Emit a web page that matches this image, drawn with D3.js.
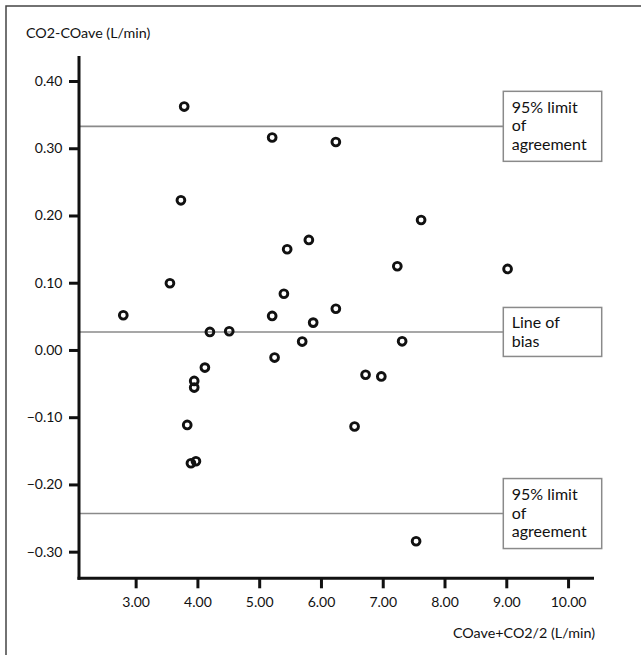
<!DOCTYPE html>
<html>
<head>
<meta charset="utf-8">
<script src="https://cdn.jsdelivr.net/npm/d3@7"></script>
<style>
  html, body { margin: 0; padding: 0; background: #fff; }
  svg { display: block; }
  text { font-family: Lato, "Open Sans", sans-serif; fill: #111; }
</style>
</head>
<body>
<svg id="chart" width="641" height="655"></svg>
<script>
// ---- data ----
const xValues = [2.80, 3.555, 3.733, 3.786, 3.835, 3.895, 3.976, 3.948, 3.948, 4.121,
                 4.202, 4.515, 5.21, 5.21, 5.249, 5.40, 5.453, 5.696, 5.804, 5.874,
                 6.241, 6.241, 6.544, 6.722, 6.977, 7.236, 7.314, 7.540, 7.621, 9.021];
const yValues = [0.0516, 0.0992, 0.2226, 0.362, -0.1115, -0.1685, -0.1655, -0.0461, -0.0559, -0.0262,
                 0.0268, 0.0278, 0.316, 0.0506, -0.0113, 0.0836, 0.1498, 0.0125, 0.1636, 0.0407,
                 0.3093, 0.0613, -0.1138, -0.0369, -0.0394, 0.1245, 0.0129, -0.2845, 0.1933, 0.1205];
const xTicks = [3, 4, 5, 6, 7, 8, 9, 10];
const yTicks = [-0.3, -0.2, -0.1, 0, 0.1, 0.2, 0.3, 0.4];
const refValues = [0.3326, 0.0268, -0.2433];
const refLabels = [["95% limit", "of", "agreement"], ["Line of", "bias"], ["95% limit", "of", "agreement"]];
const xTitle = "COave+CO2/2 (L/min)";
const yTitle = "CO2-COave (L/min)";

// ---- layout ----
const svg = d3.select("#chart");
const x = d3.scaleLinear().domain([2.083, 10.42]).range([79, 594]);
const y = d3.scaleLinear().domain([-0.3396, 0.4372]).range([578.3, 56]);

// outer frame (only top and left edges visible)
svg.append("rect").attr("x", 6).attr("y", 6).attr("width", 700).attr("height", 700)
  .attr("fill", "none").attr("stroke", "#444").attr("stroke-width", 1.5);

// reference lines
const boxX = 503.3, boxW = 98.4;
refValues.forEach((v, i) => {
  svg.append("line")
    .attr("x1", x.range()[0]).attr("x2", boxX)
    .attr("y1", y(v)).attr("y2", y(v))
    .attr("stroke", "#8a8a8a").attr("stroke-width", 1.6);
  const lines = refLabels[i];
  const lh = 18.5;
  const h = lines.length === 3 ? 70 : 49;
  svg.append("rect")
    .attr("x", boxX).attr("y", y(v) - h / 2)
    .attr("width", boxW).attr("height", h)
    .attr("fill", "#fff").attr("stroke", "#8a8a8a").attr("stroke-width", 1.5);
  const b1 = lines.length === 3 ? y(v) - 13.5 : y(v) - 3.5;
  lines.forEach((t, j) => {
    svg.append("text")
      .attr("x", boxX + 8.5).attr("y", b1 + j * lh)
      .attr("font-size", 16).text(t);
  });
});

// axes
const yAxis = d3.axisLeft(y).tickValues(yTicks).tickSize(10).tickSizeOuter(0)
  .tickPadding(6.5).tickFormat(d3.format(".2f"));
const xAxis = d3.axisBottom(x).tickValues(xTicks).tickSize(10).tickSizeOuter(0)
  .tickPadding(8.4).tickFormat(d3.format(".2f"));

const gy = svg.append("g").attr("transform", `translate(${x.range()[0]},0)`).call(yAxis);
const gx = svg.append("g").attr("transform", `translate(0,${y.range()[0]})`).call(xAxis);
[gx, gy].forEach(g => {
  g.select(".domain").attr("stroke", "#111").attr("stroke-width", 3);
  g.selectAll(".tick line").attr("stroke", "#111").attr("stroke-width", 3);
  g.selectAll(".tick text").attr("font-size", 14).attr("fill", "#111")
    .style("font-family", "Lato, 'Open Sans', sans-serif");
});
gy.select(".domain").attr("d", `M0,${y.range()[1]}V${y.range()[0] + 1.5}`);
gx.select(".domain").attr("d", `M${x.range()[0] - 1.5},0H${x.range()[1]}`);

// axis titles
svg.append("text").attr("x", 26).attr("y", 38).attr("font-size", 14.3).text(yTitle);
svg.append("text").attr("x", 595).attr("y", 637.5).attr("text-anchor", "end")
  .attr("font-size", 14.3).text(xTitle);

// points
svg.append("g").selectAll("circle")
  .data(xValues.map((d, i) => [d, yValues[i]]))
  .join("circle")
  .attr("cx", d => x(d[0])).attr("cy", d => y(d[1]))
  .attr("r", 3.9)
  .attr("fill", "none").attr("stroke", "#111").attr("stroke-width", 2.9);
</script>
</body>
</html>
